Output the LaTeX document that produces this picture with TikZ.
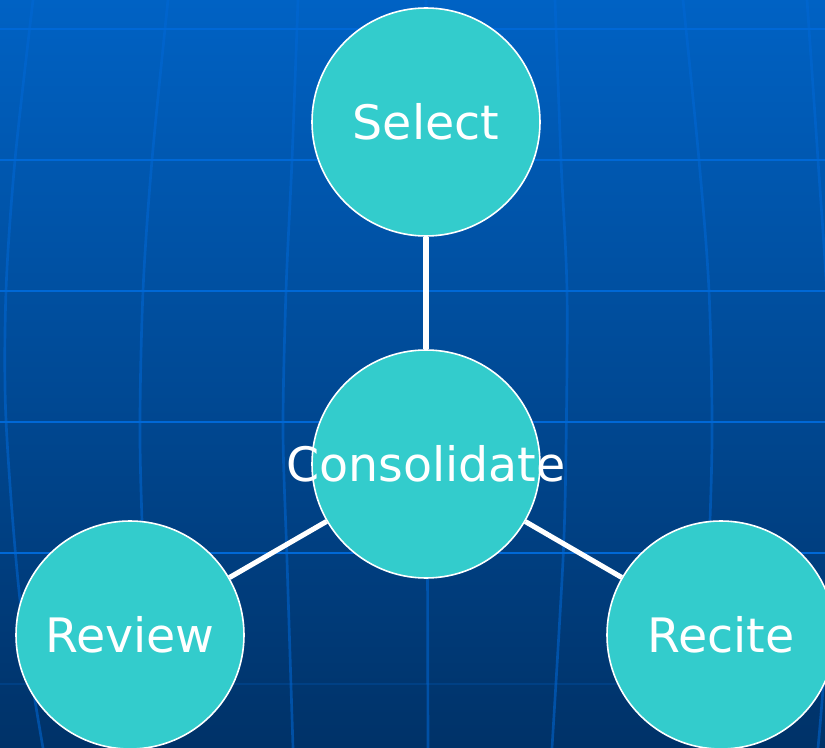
\documentclass[tikz,border=0pt]{standalone}
\usepackage{fontspec}
\setmainfont{DejaVu Sans}
\definecolor{bgtop}{RGB}{0,98,196}
\definecolor{bgmid}{RGB}{0,80,158}
\definecolor{bgbot}{RGB}{0,50,104}
\definecolor{gridblue}{RGB}{0,104,214}
\definecolor{bubbleteal}{RGB}{51,204,204}
\tikzset{
  latline/.style={gridblue, line width=2.2pt},
  meridian/.style={gridblue, line width=2pt, opacity=0.55},
  bubble/.style={circle, fill=bubbleteal, draw=white, line width=1.2pt,
    minimum size=171pt, inner sep=0pt, text=white,
    font=\fontsize{35.6}{42}\selectfont},
  link/.style={white, line width=3.8pt}
}
\begin{document}
\begin{tikzpicture}[x=0.75pt,y=-0.75pt]
    \useasboundingbox (0,0) rectangle (825,748);
    \clip (0,0) rectangle (825,748);
    \shade[top color=bgtop, middle color=bgmid, bottom color=bgbot] (0,0) rectangle (825,748);
    % globe grid behind the diagram
    \foreach \y in {29,160,291,422,553}
        \draw[latline] (0,\y) -- (825,\y);
    \draw[latline, opacity=0.2] (0,684) -- (825,684);
    \draw[meridian] plot[smooth] coordinates {(33,0) (15,160) (6,291) (6,420) (20,600) (43,748)};
    \draw[meridian] plot[smooth] coordinates {(168,0) (152,160) (143,291) (140,440) (145,600) (152,748)};
    \draw[meridian] plot[smooth] coordinates {(298,0) (292,160) (286,291) (283,430) (287,560) (293,748)};
    \draw[meridian] (426,0) -- (428,748);
    \draw[meridian] plot[smooth] coordinates {(555,0) (561,160) (567,291) (566,450) (563,560) (552,748)};
    \draw[meridian] plot[smooth] coordinates {(683,0) (699,160) (709,291) (712,440) (707,600) (700,748)};
    \draw[meridian] plot[smooth] coordinates {(807,0) (818,160) (827,300) (830,450) (826,640) (818,748)};
    % the four steps
    \node[bubble] (sel) at (426,122) {Select};
    \node[bubble] (cons) at (426,464) {\makebox[0pt]{Consolidate}};
    \node[bubble] (rev) at (130,635) {Review};
    \node[bubble] (rec) at (721,635) {Recite};
    \draw[link] (sel) -- (cons);
    \draw[link] (cons) -- (rev);
    \draw[link] (cons) -- (rec);
\end{tikzpicture}
\end{document}
